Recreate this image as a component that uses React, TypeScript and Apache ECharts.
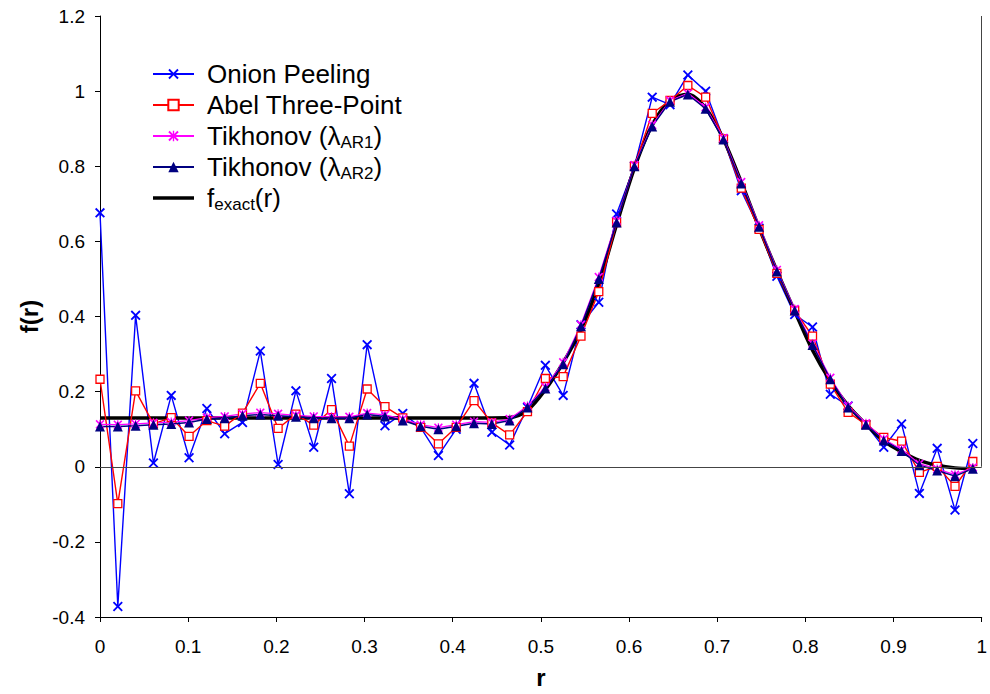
import React, { useEffect, useRef } from "react";
import * as echarts from "echarts";

const R = [0, 0.0202, 0.0404, 0.0606, 0.0808, 0.101, 0.1212, 0.1414, 0.1616, 0.1818, 0.202, 0.2222, 0.2424, 0.2626, 0.2828, 0.303, 0.3232, 0.3434, 0.3636, 0.3838, 0.404, 0.4242, 0.4444, 0.4646, 0.4848, 0.5051, 0.5253, 0.5455, 0.5657, 0.5859, 0.6061, 0.6263, 0.6465, 0.6667, 0.6869, 0.7071, 0.7273, 0.7475, 0.7677, 0.7879, 0.8081, 0.8283, 0.8485, 0.8687, 0.8889, 0.9091, 0.9293, 0.9495, 0.9697, 0.9899];

const ONION = [0.676, -0.372, 0.403, 0.01, 0.19, 0.024, 0.155, 0.088, 0.118, 0.308, 0.006, 0.202, 0.052, 0.235, -0.072, 0.325, 0.109, 0.142, 0.105, 0.03, 0.1, 0.222, 0.092, 0.058, 0.158, 0.27, 0.19, 0.378, 0.438, 0.673, 0.8, 0.984, 0.964, 1.043, 1.0, 0.873, 0.735, 0.635, 0.507, 0.405, 0.372, 0.193, 0.162, 0.112, 0.052, 0.114, -0.071, 0.049, -0.115, 0.062];

const ABEL = [0.233, -0.098, 0.202, 0.114, 0.131, 0.081, 0.123, 0.108, 0.143, 0.222, 0.102, 0.14, 0.111, 0.152, 0.055, 0.207, 0.16, 0.13, 0.105, 0.061, 0.105, 0.176, 0.117, 0.085, 0.147, 0.235, 0.24, 0.348, 0.466, 0.65, 0.8, 0.941, 0.975, 1.015, 0.984, 0.873, 0.742, 0.632, 0.515, 0.416, 0.348, 0.22, 0.145, 0.112, 0.078, 0.068, -0.015, 0.001, -0.052, 0.014];

const TIK1 = [0.113, 0.112, 0.114, 0.117, 0.119, 0.123, 0.131, 0.134, 0.141, 0.144, 0.141, 0.137, 0.134, 0.133, 0.133, 0.143, 0.138, 0.127, 0.112, 0.104, 0.112, 0.12, 0.118, 0.127, 0.162, 0.212, 0.278, 0.378, 0.505, 0.655, 0.803, 0.91, 0.975, 0.994, 0.957, 0.875, 0.758, 0.643, 0.524, 0.42, 0.328, 0.237, 0.162, 0.116, 0.074, 0.046, 0.008, -0.006, -0.021, -0.002];

const TIK2 = [0.107, 0.107, 0.109, 0.112, 0.114, 0.118, 0.127, 0.129, 0.136, 0.139, 0.136, 0.133, 0.129, 0.129, 0.129, 0.139, 0.134, 0.123, 0.108, 0.1, 0.108, 0.116, 0.114, 0.123, 0.158, 0.208, 0.273, 0.374, 0.5, 0.65, 0.8, 0.906, 0.972, 0.991, 0.953, 0.871, 0.754, 0.639, 0.52, 0.416, 0.324, 0.233, 0.158, 0.112, 0.07, 0.042, 0.004, -0.01, -0.025, -0.005];

const EXACT = [0.13, 0.13, 0.13, 0.13, 0.13, 0.13, 0.13, 0.13, 0.13, 0.13, 0.13, 0.13, 0.13, 0.13, 0.13, 0.13, 0.13, 0.13, 0.13, 0.13, 0.13, 0.13, 0.13, 0.131, 0.15, 0.205, 0.277, 0.365, 0.487, 0.645, 0.795, 0.91, 0.975, 0.992, 0.955, 0.872, 0.758, 0.636, 0.522, 0.414, 0.31, 0.228, 0.163, 0.113, 0.068, 0.04, 0.017, 0.004, -0.003, -0.005];

const NAMES = ["Onion Peeling", "Abel Three-Point", "Tikhonov (λAR1)", "Tikhonov (λAR2)", "fexact(r)"];
const LEGEND_LABELS: Record<string, string> = {
  "Onion Peeling": "{t|Onion Peeling}",
  "Abel Three-Point": "{t|Abel Three-Point}",
  "Tikhonov (λAR1)": "{t|Tikhonov (λ}{s|AR1}{t|)}",
  "Tikhonov (λAR2)": "{t|Tikhonov (λ}{s|AR2}{t|)}",
  "fexact(r)": "{t|f}{s|exact}{t|(r)}",
};

const FONT = "'Liberation Sans', Arial, sans-serif";
const CROSS = "path://M0,1.3L1.3,0L5,3.7L8.7,0L10,1.3L6.3,5L10,8.7L8.7,10L5,6.3L1.3,10L0,8.7L3.7,5Z";
const STAR = "path://M0,1.3L1.3,0L5,3.7L8.7,0L10,1.3L6.3,5L10,8.7L8.7,10L5,6.3L1.3,10L0,8.7L3.7,5Z M4.35,0L5.65,0L5.65,10L4.35,10Z";

const pts = (arr: number[]) => R.map((r, i) => [r, arr[i]]);

export default function App() {
  const ref = useRef<HTMLDivElement>(null);
  useEffect(() => {
    if (!ref.current) return;
    const chart = echarts.init(ref.current, null, { renderer: "svg" });
    const axisCommon = {
      type: "value" as const,
      nameLocation: "middle" as const,
      nameTextStyle: { fontSize: 24, fontWeight: "bold" as const, color: "#000", fontFamily: FONT },
      axisLine: { show: true, onZero: false, lineStyle: { color: "#000", width: 1 } },
      axisTick: { show: true, length: 5, lineStyle: { color: "#000", width: 1 } },
      axisLabel: { fontSize: 19, color: "#000", fontFamily: FONT },
      splitLine: { show: false },
    };
    chart.setOption({
      animation: false,
      backgroundColor: "#fff",
      textStyle: { fontFamily: FONT },
      grid: { left: 100, right: 4, top: 16, bottom: 74 },
      xAxis: {
        ...axisCommon,
        min: 0,
        max: 1,
        interval: 0.1,
        name: "r",
        nameGap: 48,
        axisLabel: { ...axisCommon.axisLabel, margin: 20 },
      },
      yAxis: {
        ...axisCommon,
        min: -0.4,
        max: 1.2,
        interval: 0.2,
        name: "f(r)",
        nameGap: 58,
        axisLabel: { ...axisCommon.axisLabel, margin: 15 },
      },
      legend: {
        orient: "vertical",
        left: 152,
        top: 59,
        padding: 0,
        itemGap: 1,
        itemWidth: 41,
        itemHeight: 13,
        selectedMode: false,
        data: [
          { name: NAMES[0] },
          { name: NAMES[1] },
          { name: NAMES[2] },
          { name: NAMES[3] },
          { name: NAMES[4], icon: "path://M0,0H41V3.5H0Z", itemStyle: { color: "#000" } },
        ],
        formatter: (name: string) => LEGEND_LABELS[name] || name,
        textStyle: {
          fontSize: 26,
          color: "#000",
          lineHeight: 30,
          fontFamily: FONT,
          padding: [0, 0, 0, 8],
          rich: {
            t: { fontSize: 26, lineHeight: 30, color: "#000", fontFamily: FONT },
            s: { fontSize: 17, lineHeight: 16, verticalAlign: "bottom", color: "#000", fontFamily: FONT },
          },
        },
      },
      series: [
        {
          name: NAMES[0],
          type: "line",
          data: pts(ONION),
          symbol: CROSS,
          symbolSize: 10,
          itemStyle: { color: "#0000ff" },
          lineStyle: { color: "#0000ff", width: 1.4 },
          markLine: {
            silent: true,
            symbol: ["none", "none"],
            label: { show: false },
            lineStyle: { color: "#444", width: 1, type: "solid" },
            data: [{ yAxis: 0 }, [{ coord: [1, 0] }, { coord: [1, 1.2] }]],
          },
        },
        {
          name: NAMES[4],
          type: "line",
          data: pts(EXACT),
          symbol: "none",
          smooth: 0.3,
          itemStyle: { color: "#000" },
          lineStyle: { color: "#000", width: 3.5 },
        },
        {
          name: NAMES[1],
          type: "line",
          data: pts(ABEL),
          symbol: "rect",
          symbolSize: 8,
          itemStyle: { color: "#fff", borderColor: "#ff0000", borderWidth: 1.3 },
          lineStyle: { color: "#ff0000", width: 1.4 },
        },
        {
          name: NAMES[2],
          type: "line",
          data: pts(TIK1),
          symbol: STAR,
          symbolSize: 9,
          itemStyle: { color: "#ff00ff" },
          lineStyle: { color: "#ff00ff", width: 1.3 },
        },
        {
          name: NAMES[3],
          type: "line",
          data: pts(TIK2),
          symbol: "triangle",
          symbolSize: 10,
          itemStyle: { color: "#000080" },
          lineStyle: { color: "#000080", width: 1.5 },
        },
      ],
    });
    return () => chart.dispose();
  }, []);
  return (
    <div
      ref={ref}
      style={{ position: "fixed", left: 0, top: 0, width: 990, height: 694, background: "#fff" }}
    />
  );
}
